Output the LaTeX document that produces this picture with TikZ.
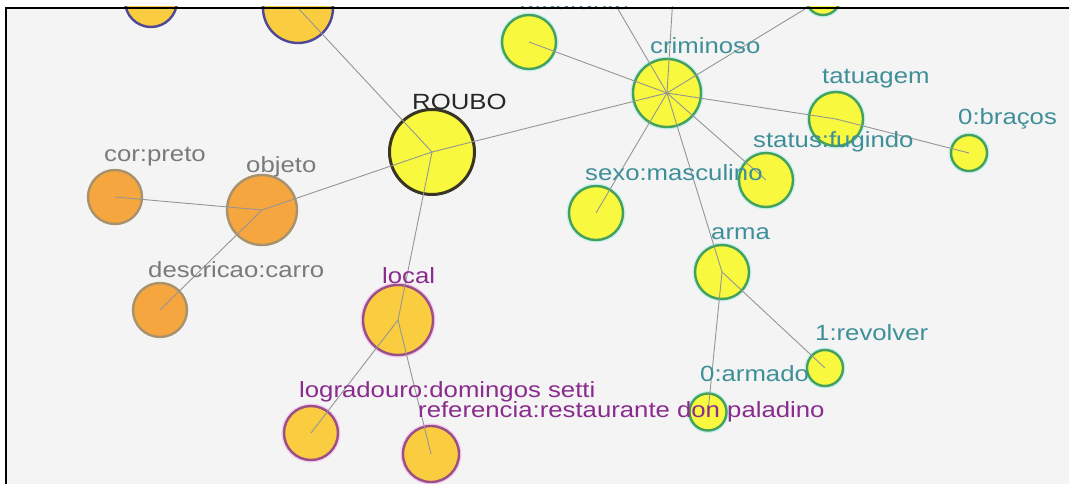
\documentclass[tikz,border=0pt]{standalone}
\usepackage{fontspec}
\setmainfont[FakeStretch=1.17]{Liberation Sans}
\definecolor{bg}{HTML}{F4F4F4}
\definecolor{ylw}{HTML}{F8F83E}
\definecolor{gold}{HTML}{F9CD3F}
\definecolor{orng}{HTML}{F6A63F}
\definecolor{grnline}{HTML}{45A05E}
\definecolor{halo}{HTML}{C8F0F0}
\definecolor{tealtxt}{HTML}{3F8F99}
\definecolor{greytxt}{HTML}{7A7A7A}
\definecolor{purptxt}{HTML}{8A2C8E}
\definecolor{locline}{HTML}{9A4F86}
\definecolor{pinkhalo}{HTML}{F3CDF0}
\definecolor{roubline}{HTML}{3A3422}
\definecolor{orline}{HTML}{A8926E}
\definecolor{blueline}{HTML}{4F4797}
\definecolor{edgec}{HTML}{959595}
\begin{document}
\begin{tikzpicture}[x=1pt,y=-1pt,
  nd/.style={circle,inner sep=0pt,minimum size=#1,line width=2.4pt},
  gnode/.style={nd=#1,fill=ylw,draw=grnline,preaction={draw=halo,line width=5pt}},
  rnode/.style={nd=#1,fill=ylw,draw=roubline,line width=3pt},
  onode/.style={nd=#1,fill=orng,draw=orline},
  lnode/.style={nd=#1,fill=gold,draw=locline,preaction={draw=pinkhalo,line width=5pt}},
  bnode/.style={nd=#1,fill=gold,draw=blueline},
  edge/.style={draw=edgec,line width=0.9pt},
  lbl/.style={anchor=base west,inner sep=0pt,font=\fontsize{22}{26}\selectfont},
  tlbl/.style={lbl,text=tealtxt},
  glbl/.style={lbl,text=greytxt},
  plbl/.style={lbl,text=purptxt}]
\useasboundingbox (0,0) rectangle (1069,484);
\fill[white] (0,0) rectangle (1069,484);
\fill[bg] (6,7) rectangle (1069,484);
\begin{scope}
\clip (6,7) rectangle (1069,484);
% nodes
\node[bnode=52pt] (tlA) at (151,1) {};
\node[bnode=70pt] (tlB) at (298,8) {};
\node[rnode=85pt] (roubo) at (432,152) {};
\node[gnode=68pt] (crim) at (667,93) {};
\node[gnode=54pt] (topA) at (529,42) {};
\node[gnode=34pt] (topR) at (823,-2) {};
\node[gnode=54pt] (tatu) at (836,119) {};
\node[gnode=36pt] (brac) at (969,153) {};
\node[gnode=54pt] (stat) at (766,180) {};
\node[gnode=54pt] (sexo) at (596,213) {};
\node[gnode=54pt] (arma) at (722,272) {};
\node[gnode=36pt] (revo) at (825,368) {};
\node[gnode=37pt] (armd) at (708,412) {};
\node[onode=70pt] (obj) at (262,210) {};
\node[onode=54pt] (corp) at (115,197) {};
\node[onode=54pt] (desc) at (160,310) {};
\node[lnode=70pt] (local) at (398,320) {};
\node[lnode=54pt] (logr) at (311,433) {};
\node[lnode=56pt] (refe) at (431,454) {};
\coordinate (offA) at (601,-20);
\coordinate (offB) at (674,-20);
% edges
\draw[edge] (tlB.center) -- (roubo.center);
\draw[edge] (roubo.center) -- (crim.center);
\draw[edge] (roubo.center) -- (obj.center);
\draw[edge] (roubo.center) -- (local.center);
\draw[edge] (obj.center) -- (corp.center);
\draw[edge] (obj.center) -- (desc.center);
\draw[edge] (local.center) -- (logr.center);
\draw[edge] (local.center) -- (refe.center);
\draw[edge] (crim.center) -- (topA.center);
\draw[edge] (crim.center) -- (offA);
\draw[edge] (crim.center) -- (offB);
\draw[edge] (crim.center) -- (topR.center);
\draw[edge] (crim.center) -- (tatu.center);
\draw[edge] (tatu.center) -- (brac.center);
\draw[edge] (crim.center) -- (stat.center);
\draw[edge] (crim.center) -- (sexo.center);
\draw[edge] (crim.center) -- (arma.center);
\draw[edge] (arma.center) -- (revo.center);
\draw[edge] (arma.center) -- (armd.center);
% labels
\node[tlbl] (ltop) at (520,10) {atuarante};
\node[lbl,text=black!85] (lroubo) at (412,110) {ROUBO};
\node[tlbl] (lcrim) at (650,54) {criminoso};
\node[tlbl] (ltatu) at (822,84) {tatuagem};
\node[tlbl] (lbrac) at (958,125) {0:braços};
\node[tlbl] (lstat) at (753,148) {status:fugindo};
\node[tlbl] (lsexo) at (585,181) {sexo:masculino};
\node[tlbl] (larma) at (711,239) {arma};
\node[tlbl] (lrevo) at (815,340) {1:revolver};
\node[tlbl] (larmd) at (700,381) {0:armado};
\node[glbl] (lobj) at (246,173) {objeto};
\node[glbl] (lcorp) at (104,162) {cor:preto};
\node[glbl] (ldesc) at (148,277) {descricao:carro};
\node[plbl] (llocal) at (382,283) {local};
\node[plbl] (llogr) at (299,397) {logradouro:domingos setti};
\node[plbl] (lrefe) at (418,417) {referencia:restaurante don paladino};
\end{scope}
\draw[line width=2.3pt] (6.3,484) -- (6.3,8) -- (1069,8);
\end{tikzpicture}
\end{document}
